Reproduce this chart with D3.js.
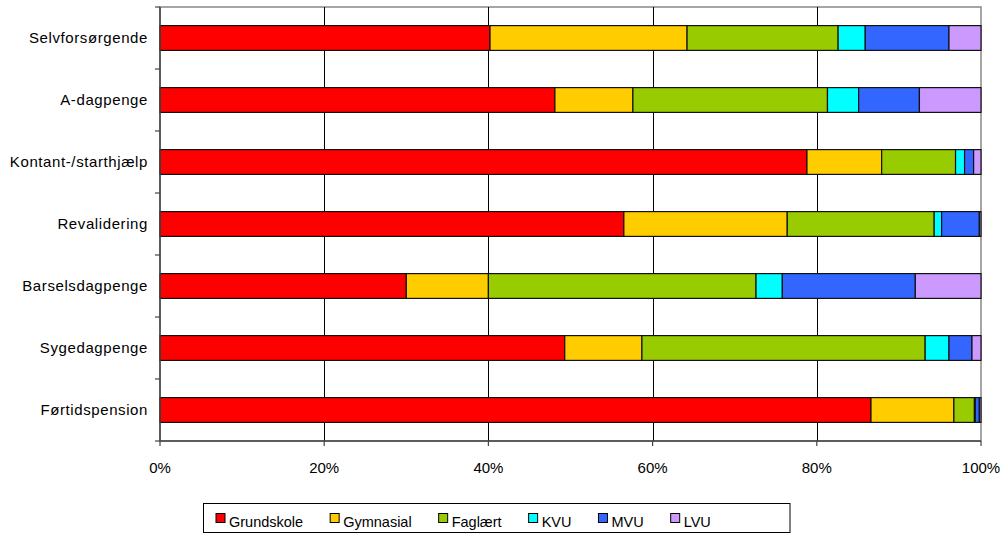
<!DOCTYPE html>
<html>
<head>
<meta charset="utf-8">
<script src="https://cdn.jsdelivr.net/npm/d3@7"></script>
<style>
body { margin: 0; background: #fff; }
text { font-family: "Liberation Sans", Arial, sans-serif; fill: #000; }
</style>
</head>
<body>
<script>
// categories top to bottom
var categories = ["Selvforsørgende", "A-dagpenge", "Kontant-/starthjælp", "Revalidering",
  "Barselsdagpenge", "Sygedagpenge", "Førtidspension"];
var seriesNames = ["Grundskole", "Gymnasial", "Faglært", "KVU", "MVU", "LVU"];
var seriesColors = ["#ff0000", "#ffcc00", "#99cc00", "#00ffff", "#3366ff", "#cc99ff"];

// shares in percent, one array per series (same order as categories)
var grundskole = [40.2, 48.1, 78.8, 56.5, 30.0, 49.3, 86.6];
var gymnasial  = [24.0,  9.5,  9.1, 19.9, 10.0,  9.4, 10.1];
var faglaert   = [18.4, 23.7,  9.0, 17.9, 32.6, 34.5,  2.5];
var kvu        = [ 3.3,  3.8,  1.1,  0.9,  3.2,  2.9,  0.1];
var mvu        = [10.2,  7.4,  1.1,  4.6, 16.2,  2.8,  0.5];
var lvu        = [ 3.9,  7.5,  0.9,  0.2,  8.0,  1.1,  0.2];
var tickValues = [0, 20, 40, 60, 80, 100];

var svgWidth = 1003, svgHeight = 535;
var margin = {top: 7, left: 160};
var width = 821, height = 434;

var svg = d3.select("body").append("svg")
  .attr("width", svgWidth)
  .attr("height", svgHeight);

var chartGroup = svg.append("g")
  .attr("transform", `translate(${margin.left}, ${margin.top})`);

// build table for stacking
var rows = categories.map(function(c, i) {
  return {cat: c, Grundskole: grundskole[i], Gymnasial: gymnasial[i], "Faglært": faglaert[i],
    KVU: kvu[i], MVU: mvu[i], LVU: lvu[i]};
});
var stacked = d3.stack().keys(seriesNames)(rows);

var xscale = d3.scaleLinear().domain([0, 100]).range([0, width]);
var yscale = d3.scaleBand().domain(categories).range([0, height])
  .paddingInner(0.6).paddingOuter(0.3);
var boundary = d3.scaleLinear().domain([0, categories.length]).range([0, height]);

// plot frame (top/right gray)
chartGroup.append("rect")
  .attr("x", 0).attr("y", 0)
  .attr("width", width).attr("height", height)
  .attr("fill", "none")
  .attr("stroke", "#888")
  .attr("stroke-width", 1.5);

// gridlines
chartGroup.selectAll(".grid")
  .data(tickValues.slice(1, -1))
  .enter().append("line")
  .attr("x1", d => Math.round(xscale(d)) + 0.5).attr("x2", d => Math.round(xscale(d)) + 0.5)
  .attr("y1", 0).attr("y2", height)
  .attr("stroke", "#000")
  .attr("stroke-width", 1);

// bars
chartGroup.selectAll(".series")
  .data(stacked)
  .enter().append("g")
  .attr("fill", (d, i) => seriesColors[i])
  .selectAll("rect")
  .data(d => d)
  .enter().append("rect")
  .attr("x", d => xscale(d[0]))
  .attr("y", d => yscale(d.data.cat))
  .attr("width", d => xscale(d[1]) - xscale(d[0]))
  .attr("height", yscale.bandwidth())
  .attr("stroke", "#111")
  .attr("stroke-width", 1.2);

// left axis with ticks between categories
chartGroup.append("line")
  .attr("x1", 0).attr("x2", 0).attr("y1", 0).attr("y2", height)
  .attr("stroke", "#444").attr("stroke-width", 1.5);
chartGroup.selectAll(".ytick")
  .data(d3.range(categories.length + 1))
  .enter().append("line")
  .attr("x1", -5).attr("x2", 0)
  .attr("y1", d => boundary(d)).attr("y2", d => boundary(d))
  .attr("stroke", "#444").attr("stroke-width", 1.2);

chartGroup.selectAll(".ylabel")
  .data(categories)
  .enter().append("text")
  .attr("x", -12)
  .attr("y", d => yscale(d) + yscale.bandwidth() / 2)
  .attr("dy", "0.36em")
  .attr("text-anchor", "end")
  .style("font-size", "15px")
  .style("letter-spacing", "0.6px")
  .text(d => d);

// bottom axis
chartGroup.append("line")
  .attr("x1", 0).attr("x2", width).attr("y1", height).attr("y2", height)
  .attr("stroke", "#444").attr("stroke-width", 1.5);
chartGroup.selectAll(".xtick")
  .data(tickValues)
  .enter().append("line")
  .attr("x1", d => xscale(d)).attr("x2", d => xscale(d))
  .attr("y1", height).attr("y2", height + 5)
  .attr("stroke", "#444").attr("stroke-width", 1.2);
chartGroup.selectAll(".xlabel")
  .data(tickValues)
  .enter().append("text")
  .attr("x", d => xscale(d))
  .attr("y", height + 32)
  .attr("text-anchor", "middle")
  .style("font-size", "15px")
  .text(d => d + "%");

// legend
var legend = svg.append("g");
var legendBox = legend.append("rect")
  .attr("x", 203.5).attr("y", 503.5)
  .attr("height", 29)
  .attr("fill", "#fff")
  .attr("stroke", "#000")
  .attr("stroke-width", 1);

var lx = 216;
seriesNames.forEach(function(name, i) {
  legend.append("rect")
    .attr("x", lx).attr("y", 513.5)
    .attr("width", 9).attr("height", 9)
    .attr("fill", seriesColors[i])
    .attr("stroke", "#000").attr("stroke-width", 1);
  var t = legend.append("text")
    .attr("x", lx + 13).attr("y", 527)
    .style("font-size", "14.5px")
    .text(name);
  lx += 13 + t.node().getComputedTextLength() + 27;
});
legendBox.attr("width", 790 - 203.5);
</script>
</body>
</html>
